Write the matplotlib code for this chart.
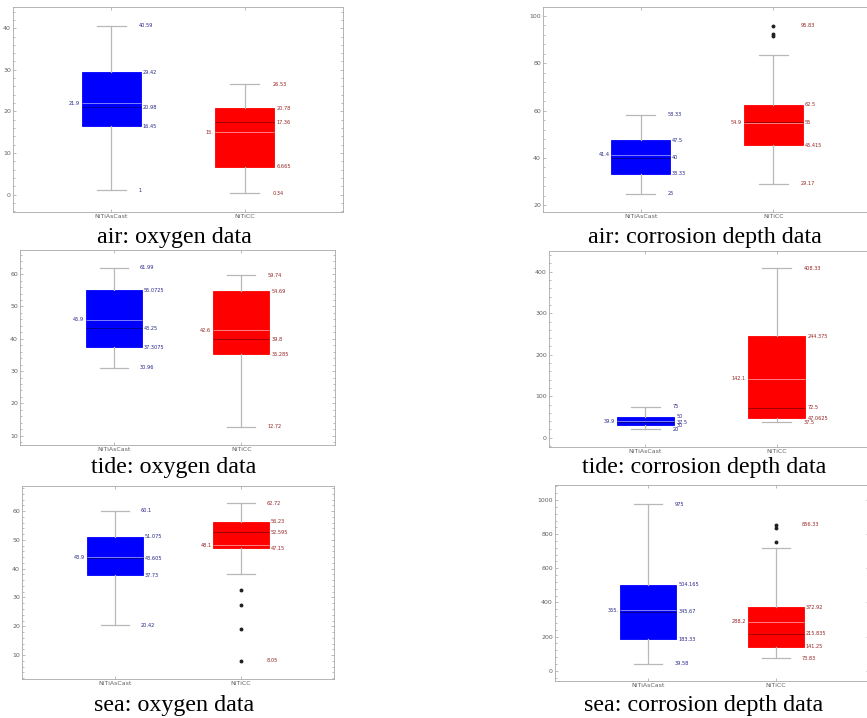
import matplotlib
matplotlib.use("Agg")
import matplotlib.pyplot as plt
from matplotlib.ticker import AutoMinorLocator, MultipleLocator

cats = ["NiTiAsCast", "NiTiCC"]

# air: oxygen data
air_ox_lo = [1, 0.34]
air_ox_q1 = [16.45, 6.665]
air_ox_med = [20.98, 17.36]
air_ox_q3 = [29.42, 20.78]
air_ox_hi = [40.59, 26.53]
air_ox_mean = [21.9, 15.0]
air_ox_out = [[], []]

# air: corrosion depth data
air_cd_lo = [25, 29.17]
air_cd_q1 = [33.33, 45.415]
air_cd_med = [40, 55]
air_cd_q3 = [47.5, 62.5]
air_cd_hi = [58.33, 83.33]
air_cd_mean = [41.4, 54.9]
air_cd_out = [[], [91.67, 92.5, 95.83]]

# tide: oxygen data
tide_ox_lo = [30.96, 12.72]
tide_ox_q1 = [37.3075, 35.285]
tide_ox_med = [43.25, 39.8]
tide_ox_q3 = [55.0725, 54.69]
tide_ox_hi = [61.99, 59.74]
tide_ox_mean = [45.9, 42.6]
tide_ox_out = [[], []]

# tide: corrosion depth data
tide_cd_lo = [20, 37.5]
tide_cd_q1 = [30, 47.0625]
tide_cd_med = [37.5, 72.5]
tide_cd_q3 = [50, 244.375]
tide_cd_hi = [75, 408.33]
tide_cd_mean = [39.9, 142.1]
tide_cd_out = [[], []]

# sea: oxygen data
sea_ox_lo = [20.42, 38.0]
sea_ox_q1 = [37.73, 47.15]
sea_ox_med = [43.605, 52.595]
sea_ox_q3 = [51.075, 56.23]
sea_ox_hi = [60.1, 62.72]
sea_ox_mean = [43.9, 48.1]
sea_ox_out = [[], [32.5, 27.5, 19.0, 8.05]]

# sea: corrosion depth data
sea_cd_lo = [39.58, 73.83]
sea_cd_q1 = [183.33, 141.25]
sea_cd_med = [345.67, 215.835]
sea_cd_q3 = [504.165, 372.92]
sea_cd_hi = [975, 718]
sea_cd_mean = [355.0, 288.2]
sea_cd_out = [[], [755, 838, 856.33]]

captions = ["air: oxygen data", "air: corrosion depth data",
            "tide: oxygen data", "tide: corrosion depth data",
            "sea: oxygen data", "sea: corrosion depth data"]

fills = ["#0000ff", "#ff0000"]
medcols = ["#00009a", "#a00000"]
txtcols = ["#24248a", "#962222"]
W, H = 867, 718


def fmt(v, real=False):
    s = f"{v:g}"
    if real and "." not in s:
        s += "."
    return s


def draw(ax, lo, q1, med, q3, hi, mean, out, ylim, major):
    for i in range(2):
        x = i + 1
        st = dict(whislo=lo[i], q1=q1[i], med=med[i], q3=q3[i], whishi=hi[i],
                  mean=mean[i], fliers=out[i], label=cats[i])
        ax.bxp([st], positions=[x], widths=0.44, capwidths=0.22,
               patch_artist=True, showmeans=True, meanline=True,
               boxprops=dict(facecolor=fills[i], edgecolor=fills[i], lw=0.6),
               medianprops=dict(color=medcols[i], lw=0.7),
               meanprops=dict(color="white", alpha=0.5, lw=0.7, linestyle="-"),
               whiskerprops=dict(color="#b8b8b8", lw=0.9),
               capprops=dict(color="#b8b8b8", lw=0.9),
               flierprops=dict(marker="o", markersize=1.8, markerfacecolor="#222222",
                               markeredgecolor="#222222"))
        top = max([hi[i]] + out[i])
        bot = min([lo[i]] + out[i])
        kw = dict(fontsize=3.6, color=txtcols[i], va="center")
        ax.text(x + 0.205, top, fmt(top), **kw)
        ax.text(x + 0.205, bot, fmt(bot), **kw)
        ax.text(x + 0.235, q3[i], fmt(q3[i]), **kw)
        ax.text(x + 0.235, med[i], fmt(med[i]), **kw)
        ax.text(x + 0.235, q1[i], fmt(q1[i]), **kw)
        ax.text(x - 0.235, mean[i], fmt(mean[i], True), ha="right", **kw)

    ax.set_xlim(1 - 0.735, 2 + 0.735)
    ax.set_ylim(*ylim)
    ax.set_xticks([1, 2])
    ax.set_xticklabels(cats)
    ax.yaxis.set_major_locator(MultipleLocator(major))
    ax.yaxis.set_minor_locator(AutoMinorLocator(5))
    ax.tick_params(axis="both", which="both", direction="in", colors="#a0a0a0",
                   labelcolor="#606060", labelsize=4.5, width=0.5,
                   top=True, right=True, pad=1.5)
    ax.tick_params(which="major", length=2.2)
    ax.tick_params(which="minor", length=1.2)
    ax.tick_params(axis="x", which="minor", bottom=False, top=False)
    for sp in ax.spines.values():
        sp.set_color("#a8a8a8")
        sp.set_linewidth(0.6)


fig = plt.figure(figsize=(W / 100, H / 100), dpi=100)


def add_axes(x0, x1, y0, y1):
    return fig.add_axes([x0 / W, 1 - y1 / H, (x1 - x0) / W, (y1 - y0) / H])


ax = add_axes(13, 343, 7, 212)
draw(ax, air_ox_lo, air_ox_q1, air_ox_med, air_ox_q3, air_ox_hi, air_ox_mean, air_ox_out,
     (-4.2, 45.1), 10)
ax = add_axes(543, 871, 7, 212)
draw(ax, air_cd_lo, air_cd_q1, air_cd_med, air_cd_q3, air_cd_hi, air_cd_mean, air_cd_out,
     (17.2, 103.7), 20)
ax = add_axes(20, 335, 250, 445)
draw(ax, tide_ox_lo, tide_ox_q1, tide_ox_med, tide_ox_q3, tide_ox_hi, tide_ox_mean, tide_ox_out,
     (7.1, 67.5), 10)
ax = add_axes(549, 873, 251, 447)
draw(ax, tide_cd_lo, tide_cd_q1, tide_cd_med, tide_cd_q3, tide_cd_hi, tide_cd_mean, tide_cd_out,
     (-22.4, 449.9), 100)
ax = add_axes(22, 334, 486, 679)
draw(ax, sea_ox_lo, sea_ox_q1, sea_ox_med, sea_ox_q3, sea_ox_hi, sea_ox_mean, sea_ox_out,
     (1.7, 68.7), 10)
ax = add_axes(555, 869, 485, 681)
draw(ax, sea_cd_lo, sea_cd_q1, sea_cd_med, sea_cd_q3, sea_cd_hi, sea_cd_mean, sea_cd_out,
     (-60, 1088), 200)

cap_pos = [(174.5, 237), (704.5, 237), (174, 468), (704, 468), (174.5, 705), (704, 705)]
for (cx, cy), t in zip(cap_pos, captions):
    fig.text(cx / W, 1 - cy / H, t, ha="center", va="center",
             family="Liberation Serif", fontsize=17.3, color="black")

fig.savefig("out.png", dpi=100)
